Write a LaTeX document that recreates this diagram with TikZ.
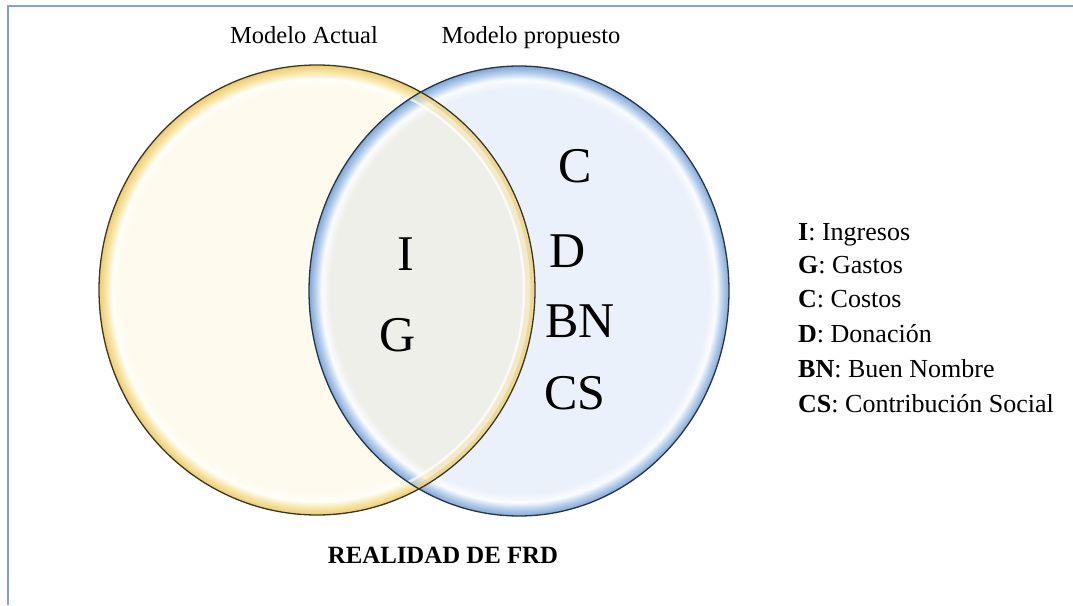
\documentclass[tikz,border=0pt]{standalone}
\usepackage{fontspec}
\setmainfont{Liberation Serif}
\definecolor{ylwin}{RGB}{254,250,237}
\definecolor{ylwhi}{RGB}{255,254,248}
\definecolor{ylwrim}{RGB}{248,230,168}
\definecolor{ylwedge}{RGB}{236,204,116}
\definecolor{bluin}{RGB}{234,241,250}
\definecolor{bluhi}{RGB}{250,252,255}
\definecolor{blurim}{RGB}{186,209,237}
\definecolor{bluedge}{RGB}{128,166,214}
\definecolor{ovin}{RGB}{239,239,234}
\definecolor{ylwline}{RGB}{60,55,35}
\definecolor{bluline}{RGB}{40,52,72}
\definecolor{framecol}{RGB}{130,160,215}
\pgfdeclareradialshading{ylwsh}{\pgfpointorigin}{color(0bp)=(ylwin); color(22.5bp)=(ylwin); color(23.5bp)=(ylwhi); color(24.2bp)=(ylwrim); color(25bp)=(ylwedge); color(50bp)=(ylwedge)}
\pgfdeclareradialshading{blush}{\pgfpointorigin}{color(0bp)=(bluin); color(22.5bp)=(bluin); color(23.5bp)=(bluhi); color(24.2bp)=(blurim); color(25bp)=(bluedge); color(50bp)=(bluedge)}
\pgfdeclareradialshading{ovsh}{\pgfpointorigin}{color(0bp)=(ovin); color(22.5bp)=(ovin); color(23.5bp)=(bluhi); color(24.2bp)=(blurim); color(25bp)=(bluedge); color(50bp)=(bluedge)}
\tikzset{
  lbl/.style={inner sep=0pt, font=\fontsize{24.5}{29}\selectfont},
  bigl/.style={inner sep=0pt, anchor=base, font=\fontsize{50}{60}\selectfont},
  leg/.style={inner sep=0pt, anchor=base west, font=\fontsize{26}{31}\selectfont},
  ttl/.style={inner sep=0pt, anchor=base, font=\fontsize{24.8}{30}\selectfont\bfseries},
  frameline/.style={draw=framecol, line width=1.5pt},
}
\begin{document}
\begin{tikzpicture}[x=1pt,y=-1pt]
\useasboundingbox (0,0) rectangle (1073,605);
\fill[white] (0,0) rectangle (1073,605);
\coordinate (fb) at (8,605);
\coordinate (fc) at (8,6);
\coordinate (fr) at (1073,6);
\draw[frameline] (fb) -- (fc) -- (fr);

\coordinate (yc) at (317,290);
\coordinate (bc) at (519,291);

\shade[shading=ylwsh] (yc) ellipse [x radius=218, y radius=225];
\shade[shading=blush] (bc) ellipse [x radius=210, y radius=225];
\begin{scope}
  \clip (yc) ellipse [x radius=218, y radius=225];
  \shade[shading=ovsh] (bc) ellipse [x radius=210, y radius=225];
  \clip (bc) ellipse [x radius=210, y radius=225];
  \draw[ylwrim, line width=20pt, opacity=.45] (yc) ellipse [x radius=218, y radius=225];
  \draw[ylwedge, line width=9pt, opacity=.6] (yc) ellipse [x radius=218, y radius=225];
  \draw[white, line width=2.5pt, opacity=.7] (yc) ellipse [x radius=207, y radius=214];
\end{scope}
\draw[ylwline, line width=1.3pt] (yc) ellipse [x radius=218, y radius=225];
\draw[bluline, line width=1.3pt] (bc) ellipse [x radius=210, y radius=225];

\node[lbl, anchor=base] (ma) at (304,43) {Modelo Actual};
\node[lbl, anchor=base] (mp) at (531,43) {Modelo propuesto};

\node[bigl] (li) at (406,270) {I};
\node[bigl] (lg) at (398,351) {G};
\node[bigl] (lc) at (575,182) {C};
\node[bigl] (ld) at (568,267) {D};
\node[bigl] (lbn) at (580,337) {BN};
\node[bigl] (lcs) at (575,409) {CS};

\node[leg] (g1) at (798,240) {\textbf{I}: Ingresos};
\node[leg] (g2) at (798,273.5) {\textbf{G}: Gastos};
\node[leg] (g3) at (798,307.5) {\textbf{C}: Costos};
\node[leg] (g4) at (798,342) {\textbf{D}: Donación};
\node[leg] (g5) at (798,377) {\textbf{BN}: Buen Nombre};
\node[leg] (g6) at (798,412) {\textbf{CS}: Contribución Social};

\node[ttl] (t) at (443,563) {REALIDAD DE FRD};
\end{tikzpicture}
\end{document}
